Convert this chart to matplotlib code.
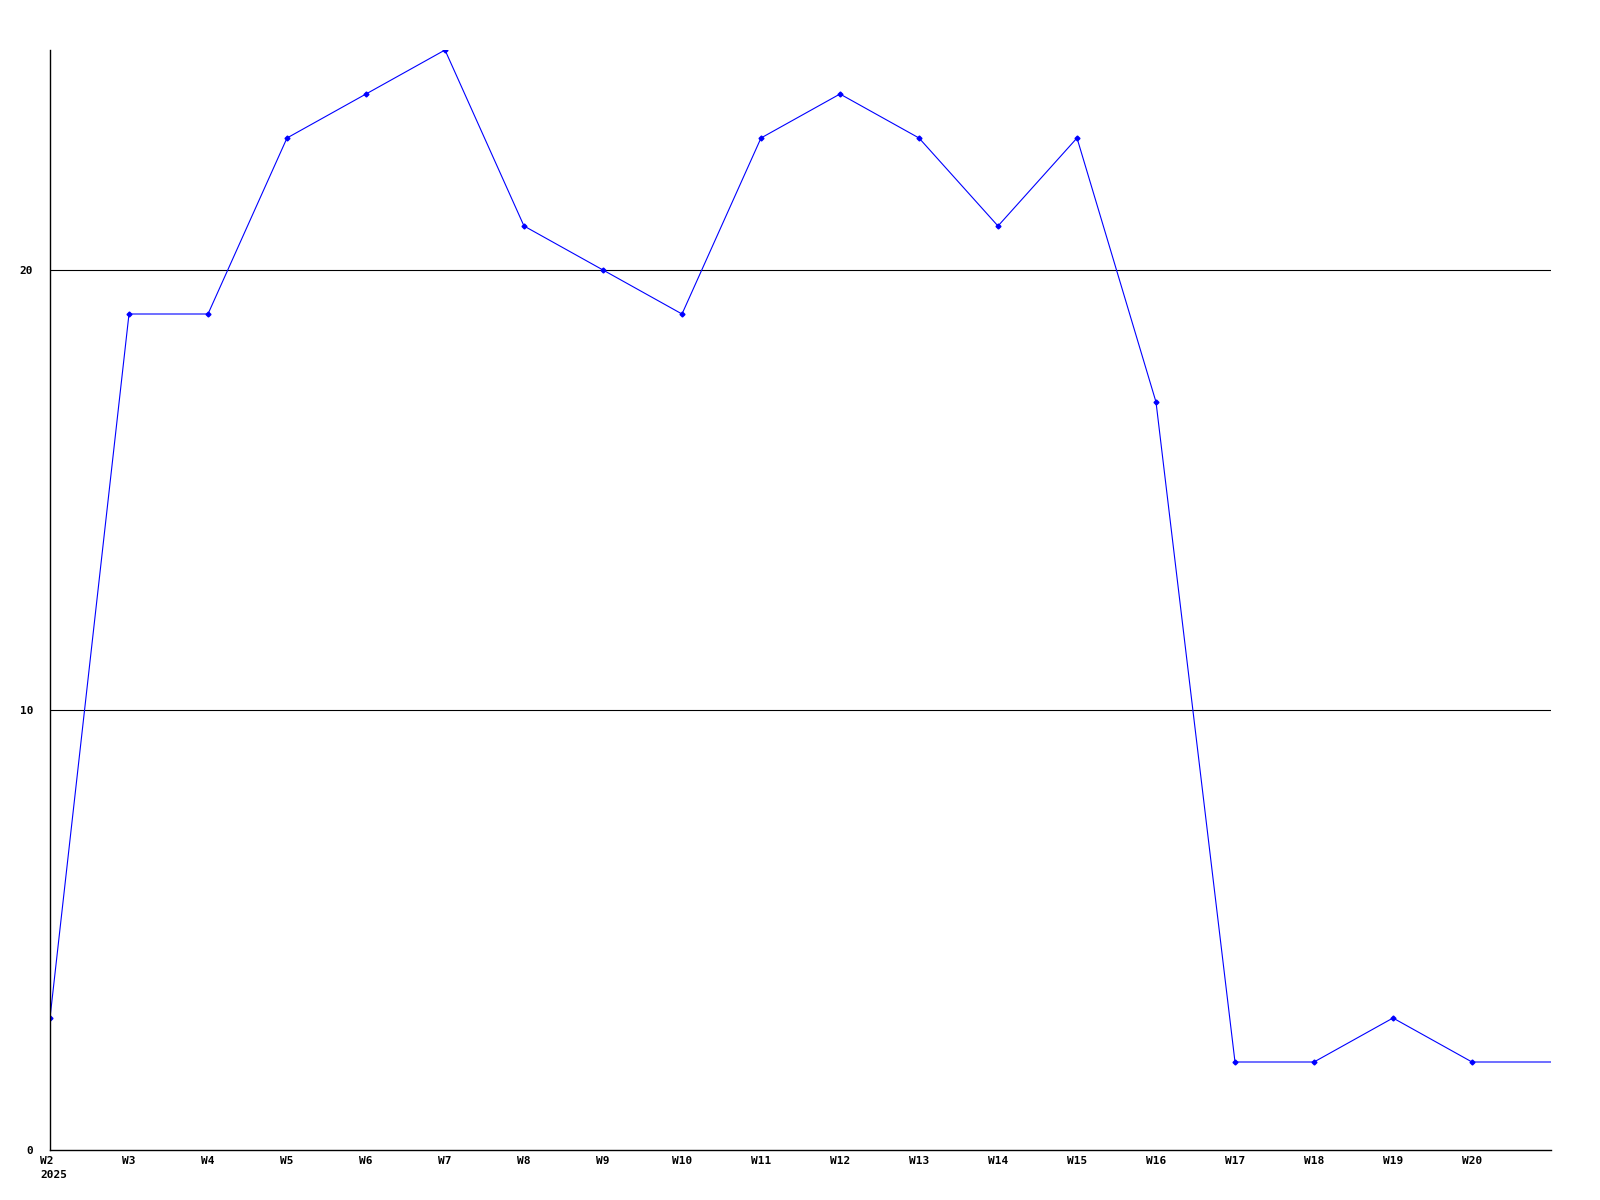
import matplotlib
matplotlib.use("Agg")
import matplotlib.pyplot as plt
import matplotlib.transforms as mtransforms

# weekly values, the last one (W21) sits on the right edge without a label
weeks = ['W2', 'W3', 'W4', 'W5', 'W6', 'W7', 'W8', 'W9', 'W10', 'W11',
         'W12', 'W13', 'W14', 'W15', 'W16', 'W17', 'W18', 'W19', 'W20', 'W21']
values = [3, 19, 19, 23, 24, 25, 21, 20, 19, 23,
          24, 23, 21, 23, 17, 2, 2, 3, 2, 2]
year_label = '2025'
y_ticks = [0, 10, 20]

fig = plt.figure(figsize=(16, 12), dpi=100)
ax = fig.add_axes([50 / 1600, 50 / 1200, 1501 / 1600, 1100 / 1200])

x = list(range(len(weeks)))
ax.plot(x, values, color='#0000ff', linewidth=0.8, marker='D', markersize=2.5,
        markevery=list(range(len(weeks) - 1)), clip_on=True)

for y in y_ticks[1:]:
    ax.axhline(y, color='black', linewidth=0.8, zorder=0)

ax.set_xlim(0, len(weeks) - 1)
ax.set_ylim(0, 25)

for s in ['top', 'right']:
    ax.spines[s].set_visible(False)
for s in ['left', 'bottom']:
    ax.spines[s].set_linewidth(1.0)

mono = {'family': 'DejaVu Sans Mono', 'weight': 'bold', 'size': 8}

ax.set_yticks(y_ticks)
ax.set_yticklabels([str(v) for v in y_ticks], fontdict=mono)
ax.tick_params(axis='y', length=0, pad=12)

labels = [weeks[0] + '\n' + year_label] + weeks[1:-1]
ax.set_xticks(x[:-1])
ax.set_xticklabels(labels, fontdict=mono)
ax.tick_params(axis='x', length=0, pad=4)
first = ax.get_xticklabels()[0]
first.set_ha('left')
first.set_multialignment('left')
first.set_linespacing(1.6)
first.set_transform(first.get_transform() +
                    mtransforms.ScaledTranslation(-10 / 100, 0, fig.dpi_scale_trans))

fig.savefig('out.png', dpi=100)
